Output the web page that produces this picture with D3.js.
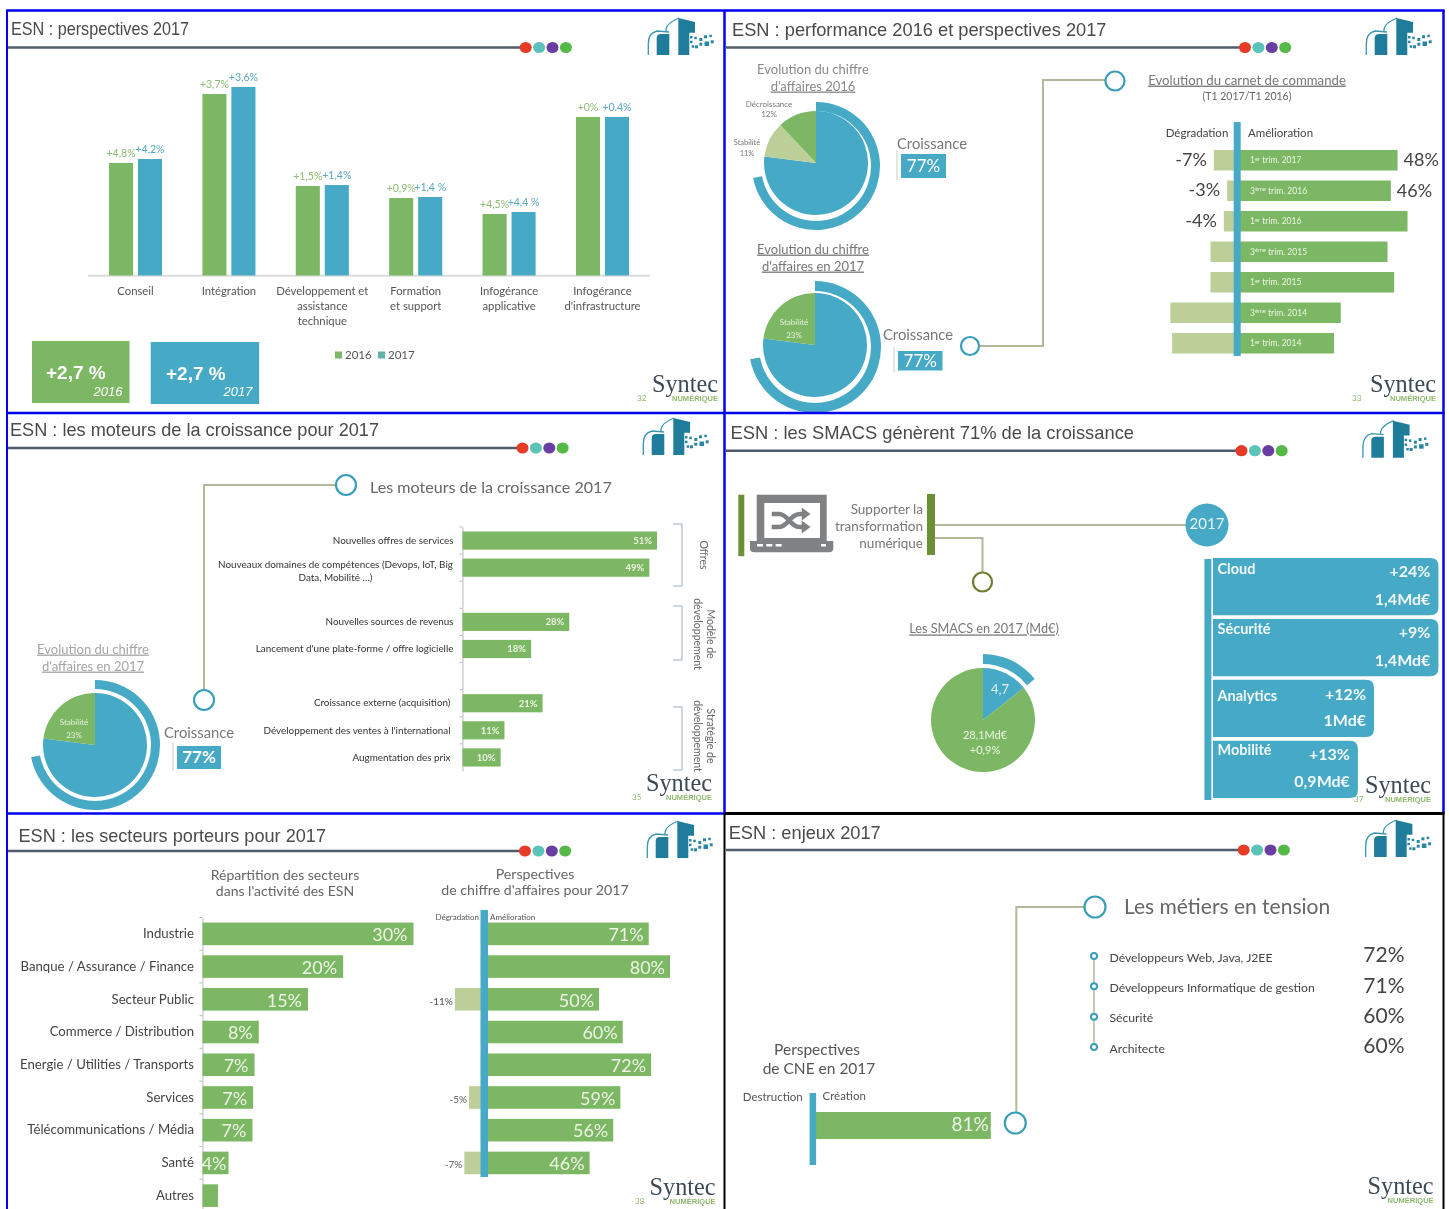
<!DOCTYPE html>
<html>
<head>
<meta charset="utf-8">
<script src="https://cdn.jsdelivr.net/npm/d3@7"></script>
<style>
  html, body { margin: 0; background: #fff; }
  svg { display: block; filter: blur(0.55px); }
</style>
</head>
<body>
<div id="chart"></div>
<script>
// slide 1 : perspectives
const perspCategories = ["Conseil", "Intégration", "Développement et|assistance|technique", "Formation|et support", "Infogérance|applicative", "Infogérance|d'infrastructure"];
const perspSeries = ["2016", "2017"];
const persp2016 = [22.5, 36.3, 17.9, 15.5, 12.3, 31.7];
const persp2017 = [23.3, 37.7, 18.1, 15.7, 12.7, 31.7];
const perspLabels2016 = ["+4,8%", "+3,7%", "+1,5%", "+0,9%", "+4,5%", "+0%"];
const perspLabels2017 = ["+4,2%", "+3,6%", "+1,4%", "+1,4 %", "+4,4 %", "+0.4%"];

// slide 2 : pies and order book
const ca2016 = [77, 11, 12];
const ca2017 = [77, 23];
const carnetQuarters = ["1er|trim. 2017", "3ème|trim. 2016", "1er|trim. 2016", "3ème|trim. 2015", "1er|trim. 2015", "3ème|trim. 2014", "1er|trim. 2014"];
const carnetDown = [-7, -3, -4, -8, -8, -20, -19.5];
const carnetUp = [48, 46, 51, 45, 47, 31, 29];
const carnetDownLabels = ["-7%", "-3%", "-4%", "", "", "", ""];
const carnetUpLabels = ["48%", "46%", "", "", "", "", ""];

// slide 3 : moteurs
const moteursCategories = ["Nouvelles offres de services", "Nouveaux domaines de compétences (Devops, IoT, Big|Data, Mobilité …)", " ", "Nouvelles sources de revenus", "Lancement d'une plate-forme / offre logicielle", "  ", "Croissance externe (acquisition)", "Développement des ventes à l'international", "Augmentation des prix"];
const moteursValues = [51, 49, 0, 28, 18, 0, 21, 11, 10];

// slide 4 : SMACS
const smacsPie = [4.7, 28.1];
const smacsNames = ["Cloud", "Sécurité", "Analytics", "Mobilité"];
const smacsValues = [1.4, 1.4, 1, 0.9];
const smacsGrowth = ["+24%", "+9%", "+12%", "+13%"];
const smacsAmounts = ["1,4Md€", "1,4Md€", "1Md€", "0,9Md€"];

// slide 5 : secteurs
const secteurs = ["Industrie", "Banque / Assurance / Finance", "Secteur Public", "Commerce / Distribution", "Energie / Utilities / Transports", "Services", "Télécommunications / Média", "Santé", "Autres"];
const secteursShare = [30, 20, 15, 8, 7.4, 7.2, 7.1, 3.7, 2.2];
const secteursShareLabels = ["30%", "20%", "15%", "8%", "7%", "7%", "7%", "4%", ""];
const secteursUp = [71, 80, 50, 60, 72, 59, 56, 46];
const secteursDown = [0, 0, -11, 0, 0, -5, 0, -7];

// slide 6 : enjeux
const metiers = ["Développeurs Web, Java, J2EE", "Développeurs Informatique de gestion", "Sécurité", "Architecte"];
const metiersValues = ["72%", "71%", "60%", "60%"];
const cneValue = 81;

const slideTitles = ["ESN : perspectives 2017", "ESN : performance 2016 et perspectives 2017", "ESN : les moteurs de la croissance pour 2017", "ESN  : les SMACS génèrent 71% de la croissance", "ESN : les secteurs porteurs pour 2017", "ESN : enjeux 2017"];
const slidePages = ["32", "33", "35", "37", "38", ""];

// where the slide furniture sits, measured on the picture
const slideLayout = [
  {tx: 11, tw: 178, ty: 29, x0: 7, ly: 47.5, dx: 525.7, lgx: 647, lgy: 17, sx: 652, sb: 392, px: 637},
  {tx: 732, tw: 374.5, ty: 30, x0: 726, ly: 47.5, dx: 1245, lgx: 1365, lgy: 17, sx: 1370, sb: 392, px: 1352},
  {tx: 10, tw: 369, ty: 430, x0: 7, ly: 448, dx: 522.5, lgx: 642, lgy: 417, sx: 646, sb: 791, px: 632},
  {tx: 730.5, tw: 403.5, ty: 433, x0: 726, ly: 450.7, dx: 1241.5, lgx: 1361.6, lgy: 419.7, sx: 1365, sb: 793, px: 1354},
  {tx: 18.5, tw: 307.5, ty: 836, x0: 7, ly: 851, dx: 525, lgx: 646, lgy: 820, sx: 649.6, sb: 1195, px: 635},
  {tx: 728.7, tw: 152, ty: 833, x0: 726, ly: 850, dx: 1243.7, lgx: 1364.4, lgy: 819, sx: 1367.6, sb: 1194, px: 0}
];

const green = "#7cb763";
const lightGreen = "#bccf98";
const blue = "#46a9c5";
const wire = "#b3b79c";
const ink = "#555";
const sans = "Lato, sans-serif";

const svgWidth = 1449;
const svgHeight = 1209;

const svg = d3.select("#chart")
  .append("svg")
  .attr("width", svgWidth)
  .attr("height", svgHeight);

svg.append("rect").attr("width", svgWidth).attr("height", svgHeight).attr("fill", "#fff");

// y is the vertical middle of the text
function label(x, y, str, opts = {}) {
  return svg.append("text")
    .attr("x", x)
    .attr("y", y)
    .attr("dy", "0.35em")
    .attr("text-anchor", opts.anchor || "start")
    .attr("font-family", opts.font || sans)
    .attr("font-size", opts.size || 12)
    .attr("font-weight", opts.weight || "normal")
    .attr("font-style", opts.style || "normal")
    .attr("text-decoration", opts.underline ? "underline" : "none")
    .attr("fill", opts.fill || ink)
    .text(str);
}

function wirePath(d) {
  svg.append("path").attr("d", d).attr("fill", "none").attr("stroke", wire).attr("stroke-width", 2);
}

function ringDot(x, y, r, colour = "#3a9dbb", width = 2.2) {
  svg.append("circle").attr("cx", x).attr("cy", y).attr("r", r)
    .attr("fill", "#fff").attr("stroke", colour).attr("stroke-width", width);
}

function logo(x, y) {
  const g = svg.append("g").attr("transform", `translate(${x},${y})`);
  const dark = "#1f7d9b";
  g.append("path").attr("d", "M1.3,38 V27 Q1.3,16 10,14 L22,15").attr("fill", "none").attr("stroke", "#3a96b0").attr("stroke-width", 1.3);
  g.append("path").attr("d", "M19,14 V12 Q20,6 32,1").attr("fill", "none").attr("stroke", "#3a96b0").attr("stroke-width", 1.3);
  g.append("path").attr("d", "M9.7,38 V21 Q9.7,17 14,17 H22.3 V38 Z").attr("fill", dark);
  g.append("path").attr("d", "M31.3,38 V1 L48,5 V15.7 H42.3 V38 Z").attr("fill", dark);
  const squares = [[43, 19, 2.5], [43, 23.7, 2.5], [47.3, 19.7, 2.5], [52.3, 21, 3], [57, 18.3, 3], [62.3, 17.7, 2.5], [52.3, 25.7, 3], [57.5, 24.5, 4.5], [63.7, 23.3, 3], [48, 28.3, 3], [44.7, 28.3, 2.5]];
  squares.forEach(s => {
    g.append("rect").attr("x", s[0]).attr("y", s[1]).attr("width", s[2]).attr("height", s[2]).attr("fill", "#2a87a4");
  });
}

function slideFurniture(i) {
  const s = slideLayout[i];
  label(s.tx, s.ty, slideTitles[i], {font: "Liberation Sans", size: 18.5, fill: "#4a4a4a"})
    .attr("textLength", s.tw).attr("lengthAdjust", "spacingAndGlyphs");
  svg.append("line").attr("x1", s.x0).attr("x2", s.dx).attr("y1", s.ly).attr("y2", s.ly)
    .attr("stroke", "#4e5c6b").attr("stroke-width", 2.6);
  ["#e63c27", "#5cc3bb", "#6a3da3", "#55b947"].forEach((c, k) => {
    svg.append("ellipse").attr("cx", s.dx + k * 13.4).attr("cy", s.ly).attr("rx", 6).attr("ry", 5.6).attr("fill", c);
  });
  logo(s.lgx, s.lgy);
  svg.append("text").attr("x", s.sx).attr("y", s.sb)
    .attr("font-family", "Liberation Serif").attr("font-size", 26).attr("fill", "#3c4a55")
    .attr("textLength", 66).attr("lengthAdjust", "spacingAndGlyphs").text("Syntec");
  label(s.sx + 66, s.sb + 6.5, "NUMÉRIQUE", {font: "Liberation Sans", size: 7, weight: "bold", anchor: "end", fill: "#8fb86f"})
    .attr("textLength", 46).attr("lengthAdjust", "spacingAndGlyphs");
  if (slidePages[i]) {
    label(s.px, s.sb + 6.5, slidePages[i], {size: 8, fill: "#8fb86f"});
  }
}

function splitLines(textSel, lineGap, x) {
  textSel.each(function(d) {
    const parts = String(d).split("|");
    const t = d3.select(this).text(null);
    parts.forEach((p, i) => {
      const span = t.append("tspan").attr("dy", i ? lineGap : 0).text(p);
      if (x !== undefined) span.attr("x", x);
    });
  });
}

// growth pie with the partial ring around it
function pieWithRing(cx, cy, values, colours, ringEnd, r, ringDy, ringIn, ringOut) {
  const g = svg.append("g").attr("transform", `translate(${cx},${cy})`);
  const arcs = d3.pie().sort(null)(values);
  const arc = d3.arc().innerRadius(0).outerRadius(r);
  g.selectAll("path.slice")
    .data(arcs)
    .enter()
    .append("path")
    .attr("class", "slice")
    .attr("d", arc)
    .attr("fill", (d, i) => colours[i]);
  g.append("path")
    .attr("transform", `translate(0,${ringDy})`)
    .attr("d", d3.arc()({innerRadius: ringIn, outerRadius: ringOut, startAngle: 0, endAngle: ringEnd * 2 * Math.PI}))
    .attr("fill", blue);
}

function croissanceBox(tx, ty, x, y, w, h, weight) {
  label(tx, ty, "Croissance", {size: 14.8, fill: "#777"});
  svg.append("line").attr("x1", x - 4).attr("x2", x - 4).attr("y1", y - 4).attr("y2", y + h + 2).attr("stroke", "#ddd").attr("stroke-width", 1.5);
  svg.append("rect").attr("x", x).attr("y", y).attr("width", w).attr("height", h).attr("fill", blue);
  label(x + w / 2, y + h / 2, "77%", {size: 17, fill: "#fff", anchor: "middle", weight: weight});
}

// frames round the six slides
const frames = [
  ["#0000f0", 6, 10.5, 1444.5, 10.5, 2.5], ["#0000f0", 6, 413, 1444.5, 413, 2.5],
  ["#0000f0", 7, 10, 7, 1209, 2], ["#0000f0", 724.5, 10, 724.5, 813, 2.5], ["#0000f0", 1443.5, 10, 1443.5, 813, 2.5],
  ["#0000f0", 6, 813.5, 725, 813.5, 2.5], ["#000", 725, 813.5, 1444.5, 813.5, 3],
  ["#000", 724.5, 813, 724.5, 1209, 2], ["#000", 1443.5, 813, 1443.5, 1209, 2]
];

slideTitles.forEach((t, i) => slideFurniture(i));

// ---------- slide 1
const perspX = d3.scaleBand().domain(perspCategories).range([109, 629]).paddingInner(0.432);
const perspInner = d3.scaleBand().domain(perspSeries).range([0, perspX.bandwidth()]).paddingInner(0.17);
const perspY = d3.scaleLinear().domain([0, 40]).range([275.5, 75.5]);
const perspColours = [green, blue];

svg.append("line").attr("x1", 88).attr("x2", 650).attr("y1", 275.8).attr("y2", 275.8).attr("stroke", "#dcdcdc").attr("stroke-width", 2);

[persp2016, persp2017].forEach((series, s) => {
  const name = perspSeries[s];
  svg.selectAll(`rect.p${name}`)
    .data(series)
    .enter()
    .append("rect")
    .attr("class", `p${name}`)
    .attr("x", (d, i) => perspX(perspCategories[i]) + perspInner(name))
    .attr("width", perspInner.bandwidth())
    .attr("y", d => perspY(d))
    .attr("height", d => perspY(0) - perspY(d))
    .attr("fill", perspColours[s]);
  const texts = s ? perspLabels2017 : perspLabels2016;
  series.forEach((d, i) => {
    label(perspX(perspCategories[i]) + perspInner(name) + perspInner.bandwidth() / 2, perspY(d) - 10, texts[i],
      {size: 10.5, anchor: "middle", fill: s ? "#55a6bf" : "#8dbb72"});
  });
});

const perspAxis = svg.append("g")
  .attr("transform", "translate(0,275.5)")
  .call(d3.axisBottom(perspX).tickSize(0).tickPadding(19));
perspAxis.select(".domain").remove();
perspAxis.selectAll("text")
  .attr("font-family", sans).attr("font-size", 11.3).attr("fill", ink)
  .call(splitLines, 15, 0);

svg.append("rect").attr("x", 32).attr("y", 341).attr("width", 97.5).attr("height", 62).attr("fill", green);
svg.append("rect").attr("x", 150.7).attr("y", 342).attr("width", 108.5).attr("height", 62).attr("fill", blue);
label(46, 372, "+2,7 %", {font: "Liberation Sans", size: 19, weight: "bold", fill: "#fff"});
label(166, 373, "+2,7 %", {font: "Liberation Sans", size: 19, weight: "bold", fill: "#fff"});
label(122.5, 391, "2016", {font: "Liberation Sans", size: 13, style: "italic", anchor: "end", fill: "#fff"});
label(252.5, 391, "2017", {font: "Liberation Sans", size: 13, style: "italic", anchor: "end", fill: "#fff"});

svg.append("rect").attr("x", 335).attr("y", 351.5).attr("width", 7).attr("height", 7).attr("fill", green);
label(345, 355, "2016", {size: 11.5});
svg.append("rect").attr("x", 378).attr("y", 351.5).attr("width", 7).attr("height", 7).attr("fill", "#62b3a6");
label(388, 355, "2017", {size: 11.5});

// ---------- slide 2
label(813, 69, "Evolution du chiffre", {size: 13, anchor: "middle", fill: "#888"});
label(813, 86, "d'affaires 2016", {size: 13, anchor: "middle", fill: "#888", underline: true});
pieWithRing(816, 163, ca2016, [blue, lightGreen, green], 0.72, 52, 3, 55, 64);
label(769, 104, "Décroissance", {size: 8, anchor: "middle", fill: "#777"});
label(769, 114, "12%", {size: 8, anchor: "middle", fill: "#777"});
label(747, 142, "Stabilité", {size: 7.5, anchor: "middle", fill: "#777"});
label(747, 153, "11%", {size: 7.5, anchor: "middle", fill: "#777"});
croissanceBox(897, 144, 901, 154, 45, 24);

label(813, 249, "Evolution du chiffre", {size: 13, anchor: "middle", fill: "#777", underline: true});
label(813, 266, "d'affaires en 2017", {size: 13, anchor: "middle", fill: "#777", underline: true});
pieWithRing(815, 345, ca2017, [blue, green], 0.72, 52, 2, 56, 66);
label(794, 322, "Stabilité", {size: 8, anchor: "middle", fill: "#e8f2df"});
label(794, 335, "23%", {size: 8, anchor: "middle", fill: "#e8f2df"});
croissanceBox(883, 335, 898, 351, 44.5, 19.5);

wirePath("M978,346 H1043 V80 H1106");
ringDot(970, 346, 9);
ringDot(1115, 81, 9.5);

label(1247, 80, "Evolution du carnet de commande", {size: 13.2, anchor: "middle", fill: "#777", underline: true});
label(1247, 96, "(T1 2017/T1 2016)", {size: 10.5, anchor: "middle", fill: "#666"});
label(1197, 133, "Dégradation", {size: 11.5, anchor: "middle", fill: "#444"});
label(1248, 133, "Amélioration", {size: 11.5, fill: "#444"});

const carnetX = d3.scaleLinear().domain([-25, 55]).range([1153.7, 1420.9]);
const carnetY = d3.scaleBand().domain(carnetQuarters).range([150, 353.5]).paddingInner(0.328);

svg.selectAll("rect.carnetDown")
  .data(carnetDown)
  .enter()
  .append("rect")
  .attr("class", "carnetDown")
  .attr("x", d => carnetX(d))
  .attr("width", d => carnetX(0) - carnetX(d))
  .attr("y", (d, i) => carnetY(carnetQuarters[i]))
  .attr("height", carnetY.bandwidth())
  .attr("fill", lightGreen);

svg.selectAll("rect.carnetUp")
  .data(carnetUp)
  .enter()
  .append("rect")
  .attr("class", "carnetUp")
  .attr("x", carnetX(0))
  .attr("width", d => carnetX(d) - carnetX(0))
  .attr("y", (d, i) => carnetY(carnetQuarters[i]))
  .attr("height", carnetY.bandwidth())
  .attr("fill", green);

svg.append("rect").attr("x", carnetX(0) - 3.5).attr("width", 7).attr("y", 122).attr("height", 234).attr("fill", blue);

carnetQuarters.forEach((q, i) => {
  const mid = carnetY(q) + carnetY.bandwidth() / 2;
  const parts = q.split("|");
  const t = label(1250, mid, "", {size: 8.5, fill: "#eef5e6"});
  t.append("tspan").text(parts[0].slice(0, 1));
  t.append("tspan").attr("dy", -2.5).attr("font-size", 5.8).text(parts[0].slice(1));
  t.append("tspan").attr("dy", 2.5).text(" " + parts[1]);
  if (carnetDownLabels[i]) {
    label(carnetX(carnetDown[i]) - 7, mid - 1, carnetDownLabels[i], {size: 18, anchor: "end", fill: "#444"});
  }
  if (carnetUpLabels[i]) {
    label(carnetX(carnetUp[i]) + 6, mid - 0.5, carnetUpLabels[i], {size: 18, fill: "#444"});
  }
});

// ---------- slide 3
wirePath("M336,485 H204 V690");
ringDot(346, 485, 10);
ringDot(204, 700, 10);
label(370, 487, "Les moteurs de la croissance 2017", {size: 16.1, fill: "#666"});

label(93, 649, "Evolution du chiffre", {size: 13, anchor: "middle", fill: "#a5a5a5", underline: true});
label(93, 666, "d'affaires en 2017", {size: 13, anchor: "middle", fill: "#a5a5a5", underline: true});
pieWithRing(95, 745, ca2017, [blue, green], 0.72, 52, 0, 56, 65);
label(74, 722, "Stabilité", {size: 8, anchor: "middle", fill: "#e8f2df"});
label(74, 735, "23%", {size: 8, anchor: "middle", fill: "#e8f2df"});
croissanceBox(164, 733, 177, 746, 44, 23, "bold");

const moteursY = d3.scaleBand().domain(moteursCategories).range([527, 771]).paddingInner(0.33).paddingOuter(0.165);
const moteursX = d3.scaleLinear().domain([0, 51]).range([462.5, 657]);

const moteursAxis = svg.append("g")
  .attr("transform", "translate(462.5,0)")
  .call(d3.axisLeft(moteursY).tickSize(0).tickPadding(9));
moteursAxis.select(".domain").attr("stroke", "#bbb");
moteursAxis.selectAll("text")
  .attr("font-family", sans).attr("font-size", 9.9).attr("fill", "#333")
  .filter(d => d.includes("|"))
  .attr("text-anchor", "middle")
  .attr("dy", "-0.6em")
  .call(splitLines, 13, -127);
moteursAxis.selectAll("text")
  .filter(d => !d.includes("|"))
  .attr("x", d => (moteursCategories.indexOf(d) > 5 ? -12 : -9));

moteursCategories.forEach(c => {
  const edge = moteursY(c) - moteursY.step() * 0.165;
  svg.append("line").attr("x1", 459.5).attr("x2", 462.5).attr("y1", edge).attr("y2", edge).attr("stroke", "#bbb");
});

moteursValues.forEach((d, i) => {
  if (!d) return;
  const c = moteursCategories[i];
  svg.append("rect")
    .attr("class", "moteur")
    .attr("x", moteursX(0))
    .attr("y", moteursY(c))
    .attr("width", moteursX(d) - moteursX(0))
    .attr("height", moteursY.bandwidth())
    .attr("fill", green);
  label(moteursX(d) - 5, moteursY(c) + moteursY.bandwidth() / 2, d + "%", {size: 9.5, anchor: "end", fill: "#eef5e6", weight: "bold"});
});

[[524, 586], [606, 660], [707, 770]].forEach(b => {
  svg.append("path").attr("d", `M673,${b[0]} H682 V${b[1]} H673`).attr("fill", "none").attr("stroke", "#bccad2").attr("stroke-width", 1.5);
});

function rotated(x, y, str) {
  svg.append("text")
    .attr("transform", `translate(${x},${y}) rotate(90)`)
    .attr("text-anchor", "middle")
    .attr("font-family", sans).attr("font-size", 10.5).attr("fill", "#666")
    .text(str);
}
rotated(700, 555, "Offres");
rotated(707, 634, "Modèle de");
rotated(694, 634, "développement");
rotated(707, 736, "Stratégie de");
rotated(694, 736, "développement");

// ---------- slide 4
svg.append("rect").attr("x", 738.3).attr("y", 494.7).attr("width", 6).attr("height", 61.5).attr("fill", "#6c9035");
svg.append("rect").attr("x", 927).attr("y", 494).attr("width", 8).attr("height", 61).attr("fill", "#6c9035");

// laptop with the shuffle arrows
svg.append("rect").attr("x", 756.7).attr("y", 494.7).attr("width", 70).attr("height", 46.5).attr("fill", "#7f8183");
svg.append("rect").attr("x", 764.3).attr("y", 503).attr("width", 55.7).attr("height", 35).attr("fill", "#fff");
svg.append("path").attr("d", "M750,541 H833.3 V548 Q833.3,552.3 829,552.3 H754 Q750,552.3 750,548 Z").attr("fill", "#7f8183");
svg.selectAll("rect.key").data(d3.range(3)).enter().append("rect").attr("class", "key")
  .attr("x", d => 757 + d * 9.3).attr("y", 544).attr("width", 6).attr("height", 2.5).attr("fill", "#fff");
svg.append("rect").attr("x", 821).attr("y", 544).attr("width", 5).attr("height", 2.5).attr("fill", "#fff");
svg.append("path").attr("d", "M771.7,514 H779 C788,514 790,527 800,527 H803 M771.7,527 H779 C788,527 790,514 800,514 H803")
  .attr("fill", "none").attr("stroke", "#7f8183").attr("stroke-width", 4.5);
svg.append("path").attr("d", "M801.7,507.5 L810.5,514 L801.7,520.5 Z M801.7,520.5 L810.5,527 L801.7,533.5 Z").attr("fill", "#7f8183");

label(923, 509, "Supporter la", {size: 13.5, anchor: "end", fill: "#777"});
label(923, 526, "transformation", {size: 13.5, anchor: "end", fill: "#777"});
label(923, 543, "numérique", {size: 13.5, anchor: "end", fill: "#777"});

wirePath("M935,525 H1190");
wirePath("M935,538 H982.5 V573");
ringDot(982.5, 582, 9.5, "#6f7e2f");
svg.append("circle").attr("cx", 1207).attr("cy", 525).attr("r", 21.5).attr("fill", blue);
label(1207, 524, "2017", {size: 15, anchor: "middle", fill: "#e8f4f8"});

label(984, 629, "Les SMACS en 2017 (Md€)", {size: 12.7, anchor: "middle", fill: "#777", underline: true});

const smacsG = svg.append("g").attr("transform", "translate(983,720)");
const smacsArcs = d3.pie().sort(null)(smacsPie);
smacsG.selectAll("path.slice")
  .data(smacsArcs)
  .enter()
  .append("path")
  .attr("class", "slice")
  .attr("d", d3.arc().innerRadius(0).outerRadius(52))
  .attr("fill", (d, i) => [blue, green][i]);
smacsG.append("path")
  .attr("d", d3.arc()({innerRadius: 56, outerRadius: 66, startAngle: 0, endAngle: smacsArcs[0].endAngle}))
  .attr("fill", blue);
label(1000, 689, "4,7", {size: 13, anchor: "middle", fill: "#dff0f5"});
label(985, 735, "28,1Md€", {size: 11, anchor: "middle", fill: "#eef5e6"});
label(985, 750, "+0,9%", {size: 11, anchor: "middle", fill: "#eef5e6"});

const smacsY = d3.scaleBand().domain(smacsNames).range([558, 798]).paddingInner(0.06);
const smacsX = d3.scaleLinear().domain([0, 1.4]).range([1213, 1438.4]);
svg.append("rect").attr("x", 1204.4).attr("y", 559).attr("width", 7).attr("height", 241).attr("fill", blue);
svg.selectAll("path.smacs")
  .data(smacsValues)
  .enter()
  .append("path")
  .attr("class", "smacs")
  .attr("d", (d, i) => {
    const y = smacsY(smacsNames[i]);
    const h = smacsY.bandwidth();
    const w = smacsX(d);
    return `M${smacsX(0)},${y} H${w - 8} Q${w},${y} ${w},${y + 8} V${y + h - 8} Q${w},${y + h} ${w - 8},${y + h} H${smacsX(0)} Z`;
  })
  .attr("fill", blue);

const smacsText = {size: 16, weight: "bold", fill: "#f2f8fa"};
smacsNames.forEach((n, i) => {
  const y = smacsY(n);
  const right = smacsX(smacsValues[i]) - 8;
  label(1217.5, y + [11, 10, 16, 9][i], n, {size: 14.5, weight: "bold", fill: "#f2f8fa"});
  label(right, y + [13, 13, 15, 14][i], smacsGrowth[i], {...smacsText, anchor: "end"});
  label(right, y + 41, smacsAmounts[i], {...smacsText, anchor: "end"});
});

// ---------- slide 5
label(285, 875, "Répartition des secteurs", {size: 14, anchor: "middle", fill: "#666"});
label(285, 891, "dans l'activité des ESN", {size: 14, anchor: "middle", fill: "#666"});
label(535, 874, "Perspectives", {size: 14.2, anchor: "middle", fill: "#666"});
label(535, 890, "de chiffre d'affaires pour 2017", {size: 14.2, anchor: "middle", fill: "#666"});

const secteursY = d3.scaleBand().domain(secteurs).range([917.5, 1212]).paddingInner(0.31).paddingOuter(0.155);
const secteursX = d3.scaleLinear().domain([0, 30]).range([202.5, 413.5]);

const secteursAxis = svg.append("g")
  .attr("transform", "translate(202.5,0)")
  .call(d3.axisLeft(secteursY).tickSize(0).tickPadding(8.5));
secteursAxis.select(".domain").attr("stroke", "#bbb");
secteursAxis.selectAll("text").attr("font-family", sans).attr("font-size", 13.2).attr("fill", "#444");

secteurs.forEach(c => {
  const edge = secteursY(c) - secteursY.step() * 0.155;
  svg.append("line").attr("x1", 199.5).attr("x2", 202.5).attr("y1", edge).attr("y2", edge).attr("stroke", "#bbb");
});

svg.selectAll("rect.secteur")
  .data(secteursShare)
  .enter()
  .append("rect")
  .attr("class", "secteur")
  .attr("x", secteursX(0))
  .attr("y", (d, i) => secteursY(secteurs[i]))
  .attr("width", d => secteursX(d) - secteursX(0))
  .attr("height", secteursY.bandwidth())
  .attr("fill", green);

secteursShareLabels.forEach((t, i) => {
  if (!t) return;
  const inset = secteursShare[i] < 5 ? 2 : 6;
  label(secteursX(secteursShare[i]) - inset, secteursY(secteurs[i]) + secteursY.bandwidth() / 2 + 1, t, {size: 18, anchor: "end", fill: "#eef5e6"});
});

const outlookX = d3.scaleLinear().domain([-20, 80]).range([433.6, 670]);

secteursDown.forEach((d, i) => {
  if (!d) return;
  const y = secteursY(secteurs[i]);
  svg.append("rect").attr("class", "outlookDown").attr("x", outlookX(d)).attr("y", y)
    .attr("width", outlookX(0) - outlookX(d)).attr("height", secteursY.bandwidth()).attr("fill", lightGreen);
  label(outlookX(d) - 2, y + secteursY.bandwidth() / 2 + 2, d + "%", {size: 10, anchor: "end", fill: "#555"});
});

svg.selectAll("rect.outlookUp")
  .data(secteursUp)
  .enter()
  .append("rect")
  .attr("class", "outlookUp")
  .attr("x", outlookX(0))
  .attr("y", (d, i) => secteursY(secteurs[i]))
  .attr("width", d => outlookX(d) - outlookX(0))
  .attr("height", secteursY.bandwidth())
  .attr("fill", green);

secteursUp.forEach((d, i) => {
  label(outlookX(d) - 5, secteursY(secteurs[i]) + secteursY.bandwidth() / 2 + 1, d + "%", {size: 18, anchor: "end", fill: "#eef5e6"});
});

svg.append("rect").attr("x", 480.5).attr("y", 910).attr("width", 7.5).attr("height", 267).attr("fill", blue);
label(479, 917, "Dégradation", {size: 8, anchor: "end", fill: "#555"});
label(490, 917, "Amélioration", {size: 8, fill: "#555"});

// ---------- slide 6
wirePath("M1085,907 H1016.3 V1112");
ringDot(1095, 907, 10.5);
ringDot(1015.3, 1123, 10.5);
label(1124, 907, "Les métiers en tension", {size: 21, fill: "#666"});

const metiersY = d3.scalePoint().domain(metiers).range([956, 1047]);
svg.append("line").attr("x1", 1094).attr("x2", 1094).attr("y1", metiersY(metiers[0])).attr("y2", metiersY(metiers[3]))
  .attr("stroke", wire).attr("stroke-width", 1.5);
metiers.forEach((m, i) => {
  const y = metiersY(m);
  ringDot(1094, y, 3, "#3a9dbb", 2);
  label(1109.5, y + 1.5, m, {size: 12.2, fill: "#444"});
  label(1404.5, y - 1, metiersValues[i], {size: 21, anchor: "end", fill: "#444"});
});

label(817, 1050, "Perspectives", {size: 15.5, anchor: "middle", fill: "#555"});
label(819, 1069, "de CNE en 2017", {size: 15.5, anchor: "middle", fill: "#555"});
label(802.7, 1097, "Destruction", {size: 11.5, anchor: "end", fill: "#555"});
label(822.5, 1096, "Création", {size: 11.5, fill: "#555"});

const cneX = d3.scaleLinear().domain([0, 81]).range([813, 990.8]);
svg.selectAll("rect.cne")
  .data([cneValue])
  .enter()
  .append("rect")
  .attr("class", "cne")
  .attr("x", cneX(0))
  .attr("y", 1112)
  .attr("width", d => cneX(d) - cneX(0))
  .attr("height", 27)
  .attr("fill", green);
svg.append("rect").attr("x", 809.6).attr("y", 1093).attr("width", 6.5).attr("height", 72).attr("fill", blue);
label(cneX(cneValue) - 2, 1124, cneValue + "%", {size: 19, anchor: "end", fill: "#eef5e6"});

frames.forEach(f => {
  svg.append("line").attr("x1", f[1]).attr("y1", f[2]).attr("x2", f[3]).attr("y2", f[4])
    .attr("stroke", f[0]).attr("stroke-width", f[5]);
});
</script>
</body>
</html>
